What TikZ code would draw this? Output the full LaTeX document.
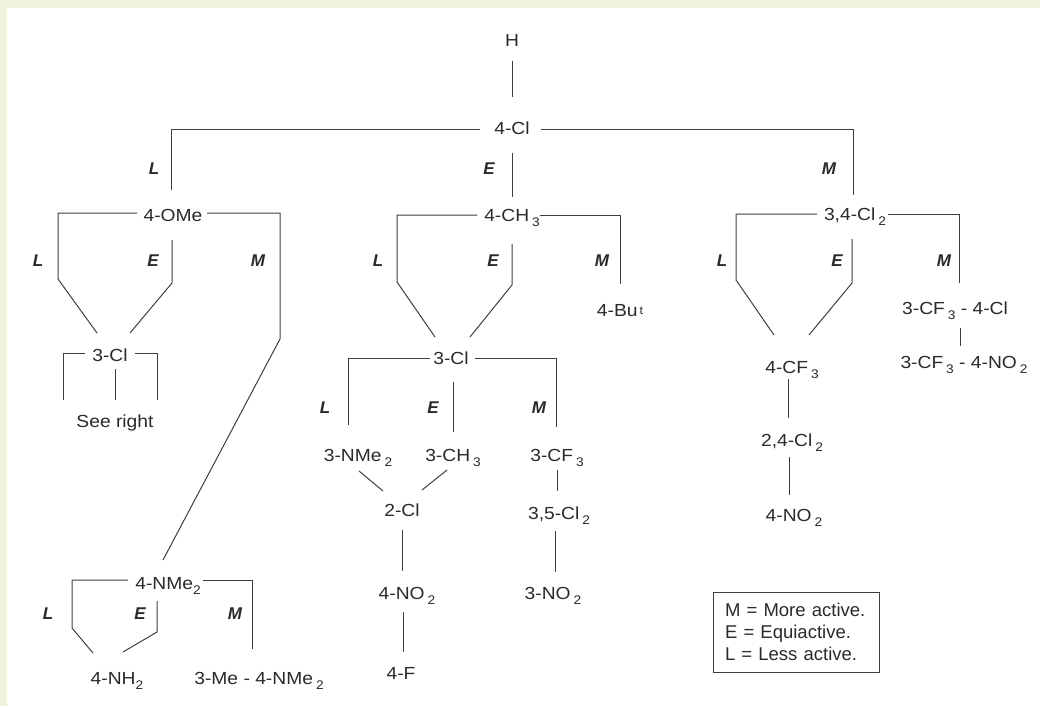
\documentclass[tikz,border=0pt]{standalone}
\usepackage{fontspec}
\setmainfont{Liberation Sans}
\newfontfamily\labf{Liberation Sans}[FakeStretch=1.1]
\usetikzlibrary{calc}
\definecolor{bgc}{HTML}{EFF3DB}
\definecolor{ink}{HTML}{2A2A2A}
\newcommand{\sbt}[1]{\raisebox{-5pt}{\fontsize{12.5}{12.5}\selectfont #1}}
\newcommand{\spt}[1]{\raisebox{2pt}{\fontsize{11.5}{11.5}\selectfont #1}}
\begin{document}
\begin{tikzpicture}[x=1pt,y=-1pt,
  lab/.style={font=\labf\fontsize{17.5}{17.5}\selectfont, text=ink, inner sep=0pt, text height=12pt, text depth=0pt, anchor=center},
  rel/.style={font=\bfseries\itshape\fontsize{17}{17}\selectfont, text=ink, inner sep=0pt, text height=12pt, text depth=0pt, anchor=center},
  conn/.style={line width=1pt, draw=ink!90}]
\fill[bgc] (0,0) rectangle (1040,706);
\fill[white] (7,8) rectangle (1040,706);
\useasboundingbox (0,0) rectangle (1040,706);
% nodes
\node[lab] (H) at (512,41) {H};
\node[lab] (cl4) at (512,129) {4-Cl};
\node[lab] (ome) at (173,215) {4-OMe};
\node[lab] (ch3) at (512,215) {4-CH\,\sbt{3}};
\node[lab] (cl34) at (855,214) {3,4-Cl\hspace{3pt}\sbt{2}};
\node[lab] (cla) at (110,355) {3-Cl};
\node[lab] (seer) at (115,421) {See right};
\node[lab] (nme) at (168,583) {4-NMe\sbt{2}};
\node[lab] (nh2) at (117,678) {4-NH\sbt{2}};
\node[lab] (menme) at (259,678) {3-Me - 4-NMe\hspace{3pt}\sbt{2}};
\node[lab] (but) at (620,310) {4-Bu\hspace{2pt}\spt{t}};
\node[lab] (clb) at (451,358) {3-Cl};
\node[lab] (nmeb) at (358,455) {3-NMe\,\sbt{2}};
\node[lab] (ch3b) at (453,455) {3-CH\,\sbt{3}};
\node[lab] (cf3b) at (557,455) {3-CF\,\sbt{3}};
\node[lab] (cl2) at (402,510) {2-Cl};
\node[lab] (no2a) at (407,593) {4-NO\,\sbt{2}};
\node[lab] (f4) at (401,673) {4-F};
\node[lab] (cl35) at (559,513) {3,5-Cl\,\sbt{2}};
\node[lab] (no2b) at (553,593) {3-NO\,\sbt{2}};
\node[lab] (cf3c) at (792,367) {4-CF\,\sbt{3}};
\node[lab] (cl24) at (792,440) {2,4-Cl\,\sbt{2}};
\node[lab] (no2c) at (794,515) {4-NO\,\sbt{2}};
\node[lab] (cf3cl) at (955,308) {3-CF\,\sbt{3} - 4-Cl};
\node[lab] (cf3no2) at (964,362) {3-CF\,\sbt{3} - 4-NO\,\sbt{2}};
% relation letters
\node[rel] (rL0) at (154,168) {L};
\node[rel] (rE0) at (489,168) {E};
\node[rel] (rM0) at (829,168) {M};
\node[rel] (rL1) at (38,260) {L};
\node[rel] (rE1) at (153,260) {E};
\node[rel] (rM1) at (258,260) {M};
\node[rel] (rL2) at (48,613) {L};
\node[rel] (rE2) at (140,613) {E};
\node[rel] (rM2) at (235,613) {M};
\node[rel] (rL3) at (378,260) {L};
\node[rel] (rE3) at (493,260) {E};
\node[rel] (rM3) at (602,260) {M};
\node[rel] (rL4) at (325,407) {L};
\node[rel] (rE4) at (433,407) {E};
\node[rel] (rM4) at (539,407) {M};
\node[rel] (rL5) at (722,260) {L};
\node[rel] (rE5) at (837,260) {E};
\node[rel] (rM5) at (944,260) {M};
% legend
\node[draw=ink!90, line width=1pt, minimum width=166pt, minimum height=80pt, text width=142pt, align=left, inner xsep=12pt, inner ysep=0pt, font=\fontsize{18.5}{22}\selectfont, text=ink] (leg) at (796,632) {M = More active.\\E = Equiactive.\\L = Less active.};
% connectors
\draw[conn] ($(H)+(0,20)$) -- ($(cl4)+(0,-32)$);
\draw[conn] ($(cl4)+(-32,0)$) -| ($(ome)+(-2,-25)$);
\draw[conn] ($(cl4)+(0,24)$) -- ($(ch3)+(0,-18)$);
\draw[conn] ($(cl4)+(29,0)$) -| ($(cl34)+(-2,-19)$);
% 4-OMe
\draw[conn] ($(ome)+(-36,-2)$) -| ($(ome)+(-115,64)$) -- ($(cla)+(-13,-22)$);
\draw[conn] ($(ome)+(-1,25)$) -- ($(ome)+(-1,68)$) -- ($(cla)+(20,-22)$);
\draw[conn] ($(ome)+(34,-2)$) -| ($(ome)+(107,124)$) -- ($(nme)+(-5,-23)$);
\draw[conn] ($(cla)+(-25,-2)$) -| ($(seer)+(-52,-21)$);
\draw[conn] ($(cla)+(25,-2)$) -| ($(seer)+(42,-21)$);
\draw[conn] ($(cla)+(5,14)$) -- ($(seer)+(0,-21)$);
% 4-NMe2
\draw[conn] ($(nme)+(-40,-3)$) -| ($(nme)+(-96,45)$) -- ($(nh2)+(-24,-25)$);
\draw[conn] ($(nme)+(-11,18)$) -- ($(nme)+(-11,49)$) -- ($(nh2)+(6,-26)$);
\draw[conn] ($(nme)+(35,-3)$) -| ($(menme)+(-7,-29)$);
% 4-CH3
\draw[conn] ($(ch3)+(-35,0)$) -| ($(ch3)+(-115,67)$) -- ($(clb)+(-16,-21)$);
\draw[conn] ($(ch3)+(0,29)$) -- ($(ch3)+(0,70)$) -- ($(clb)+(19,-21)$);
\draw[conn] ($(ch3)+(28,0)$) -| ($(but)+(0,-26)$);
% 3-Cl (centre)
\draw[conn] ($(clb)+(-21,0)$) -| ($(nmeb)+(-10,-30)$);
\draw[conn] ($(clb)+(2,24)$) -- ($(ch3b)+(0,-23)$);
\draw[conn] ($(clb)+(24,0)$) -| ($(cf3b)+(-1,-28)$);
\draw[conn] ($(nmeb)+(1,16)$) -- ($(cl2)+(-19,-19)$);
\draw[conn] ($(ch3b)+(-6,15)$) -- ($(cl2)+(20,-20)$);
\draw[conn] ($(cl2)+(0,20)$) -- ($(no2a)+(-5,-22)$);
\draw[conn] ($(no2a)+(-4,19)$) -- ($(f4)+(2,-21)$);
\draw[conn] ($(cf3b)+(0,15)$) -- ($(cl35)+(-2,-22)$);
\draw[conn] ($(cl35)+(-4,18)$) -- ($(no2b)+(2,-21)$);
% 3,4-Cl2
\draw[conn] ($(cl34)+(-38,0)$) -| ($(cl34)+(-119,66)$) -- ($(cf3c)+(-18,-32)$);
\draw[conn] ($(cl34)+(-3,25)$) -- ($(cl34)+(-3,69)$) -- ($(cf3c)+(17,-32)$);
\draw[conn] ($(cl34)+(33,0)$) -| ($(cf3cl)+(4,-25)$);
\draw[conn] ($(cf3cl)+(5,20)$) -- ($(cf3no2)+(-4,-16)$);
\draw[conn] ($(cf3c)+(-4,12)$) -- ($(cl24)+(-4,-22)$);
\draw[conn] ($(cl24)+(-3,17)$) -- ($(no2c)+(-5,-20)$);
\end{tikzpicture}
\end{document}
